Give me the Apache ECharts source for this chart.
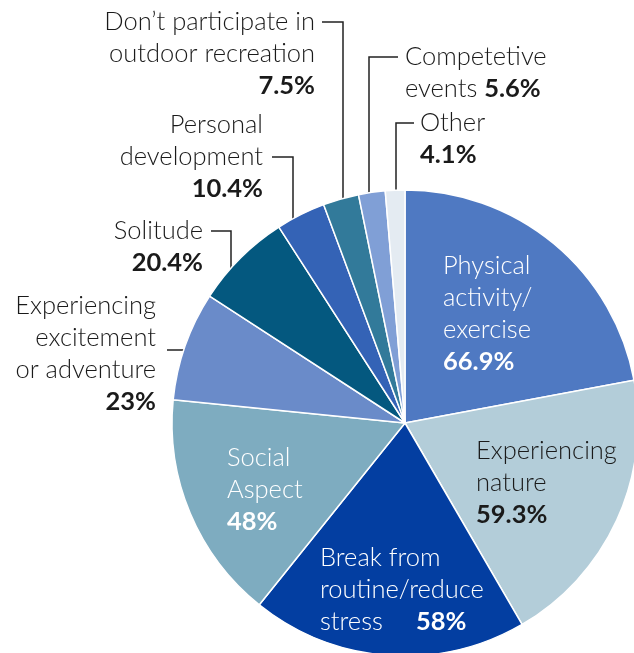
<!DOCTYPE html>
<html>
<head>
<meta charset="utf-8">
<script src="https://cdn.jsdelivr.net/npm/echarts@6/dist/echarts.min.js"></script>
<style>
html,body{margin:0;padding:0;background:#fff;}
#chart{width:634px;height:653px;}
</style>
</head>
<body>
<div id="chart"></div>
<script>
// ---- data ----
const categories = [
  'Physical activity/exercise',
  'Experiencing nature',
  'Break from routine/reduce stress',
  'Social Aspect',
  'Experiencing excitement or adventure',
  'Solitude',
  'Personal development',
  "Don\u2019t participate in outdoor recreation",
  'Competetive events',
  'Other'
];
const values = [66.9, 59.3, 58, 48, 23, 20.4, 10.4, 7.5, 5.6, 4.1];
const labelLines = [
  ['Physical', 'activity/', 'exercise'],
  ['Experiencing', 'nature'],
  ['Break from', 'routine/reduce', 'stress'],
  ['Social', 'Aspect'],
  ['Experiencing', 'excitement', 'or adventure'],
  ['Solitude'],
  ['Personal', 'development'],
  ['Don\u2019t participate in', 'outdoor recreation'],
  ['Competetive', 'events'],
  ['Other']
];

// ---- styles ----
const colors = ['#4f79c2', '#b3cdd9', '#033ea1', '#7eacc0', '#6a8bc9',
                '#04587f', '#3463b6', '#327a9a', '#809fd6', '#e4ebf2'];
const textColors = ['#fff', '#1a1a1a', '#fff', '#fff', '#1a1a1a',
                    '#1a1a1a', '#1a1a1a', '#1a1a1a', '#1a1a1a', '#1a1a1a'];
const FONT = 'Lato';
const FS = 25.5;
const layouts = [
  {x: 443, y: 250, align: 'left'},
  {x: 476, y: 435, align: 'left'},
  {x: 320, y: 542, align: 'left'},
  {x: 227, y: 442, align: 'left'},
  {x: 156, y: 290, align: 'right', labelLinePoints: [[216, 350], [190, 350], [167, 350]]},
  {x: 203, y: 215, align: 'right', labelLinePoints: [[231, 292], [231, 231], [211, 231]]},
  {x: 263, y: 109, align: 'right', labelLinePoints: [[293, 223], [293, 157], [272, 157]]},
  {x: 315, y: 6, align: 'right', labelLinePoints: [[343, 207], [343, 22], [322, 22]]},
  {x: 405, y: 41, align: 'left', labelLinePoints: [[369, 207], [369, 57], [398, 57]]},
  {x: 420, y: 107, align: 'left', labelLinePoints: [[396, 203], [396, 123], [414, 123]]}
];

function makeFormatter(i) {
  const lines = labelLines[i].slice();
  const pct = '{b|' + values[i] + '%}';
  if (i === 2) {
    lines[lines.length - 1] = '{s|' + lines[lines.length - 1] + '}' + pct;
    return lines.join('\n');
  }
  if (i === 8) {
    lines[lines.length - 1] = lines[lines.length - 1] + ' ' + pct;
    return lines.join('\n');
  }
  return lines.concat([pct]).join('\n');
}

const data = categories.map((name, i) => ({
  name: name,
  value: values[i],
  itemStyle: {color: colors[i]},
  label: {
    formatter: makeFormatter(i),
    color: textColors[i],
    align: layouts[i].align,
    rich: {
      b: {fontFamily: FONT, fontSize: FS, fontWeight: 'bold', lineHeight: 32, color: textColors[i]},
      s: {fontFamily: FONT, fontSize: FS, fontWeight: 300, lineHeight: 32, width: 96, color: textColors[i]}
    }
  },
  labelLine: {show: i >= 4}
}));

const chart = echarts.init(document.getElementById('chart'), null, {renderer: 'canvas'});
chart.setOption({
  animation: false,
  backgroundColor: '#fff',
  series: [{
    type: 'pie',
    center: [405, 423],
    radius: 233,
    startAngle: 90,
    clockwise: true,
    avoidLabelOverlap: false,
    data: data,
    itemStyle: {borderColor: '#fff', borderWidth: 1.5},
    label: {
      show: true,
      position: 'outside',
      fontFamily: FONT,
      fontSize: FS,
      fontWeight: 300,
      lineHeight: 32
    },
    labelLine: {
      show: true,
      lineStyle: {color: '#222', width: 1.5}
    },
    labelLayout: function (params) {
      const l = layouts[params.dataIndex];
      const out = {x: l.x, y: l.y, align: l.align, verticalAlign: 'top'};
      if (l.labelLinePoints) out.labelLinePoints = l.labelLinePoints;
      return out;
    }
  }]
});
</script>
</body>
</html>
